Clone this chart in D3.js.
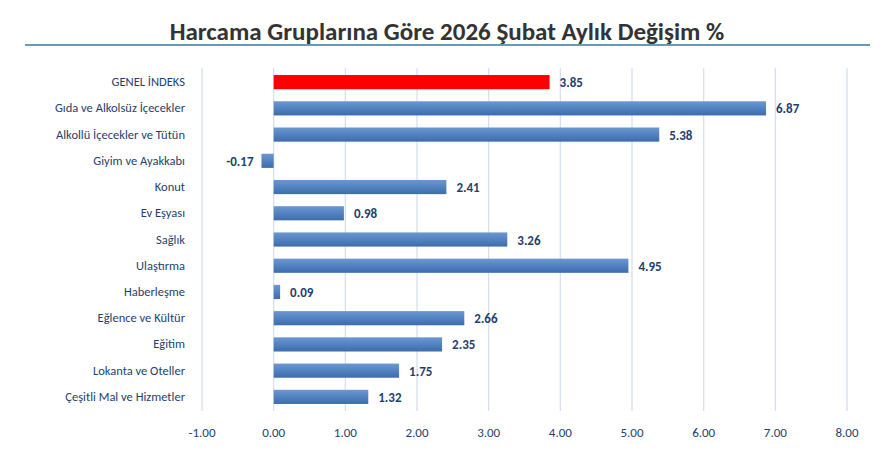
<!DOCTYPE html>
<html><head><meta charset="utf-8">
<script src="https://cdn.jsdelivr.net/npm/d3@7"></script>
<style>body{margin:0;background:#fff;font-family:Calibri,Carlito,"Open Sans",sans-serif;}</style>
</head><body><svg id="chart"></svg>
<script>
var categories = ["GENEL İNDEKS","Gıda ve Alkolsüz İçecekler","Alkollü İçecekler ve Tütün","Giyim ve Ayakkabı","Konut","Ev Eşyası","Sağlık","Ulaştırma","Haberleşme","Eğlence ve Kültür","Eğitim","Lokanta ve Oteller","Çeşitli Mal ve Hizmetler"];
var values = [3.85,6.87,5.38,-0.17,2.41,0.98,3.26,4.95,0.09,2.66,2.35,1.75,1.32];
var ticks = [-1,0,1,2,3,4,5,6,7,8];

var svg = d3.select("#chart").attr("width",885).attr("height",457);
var grad = svg.append("defs").append("linearGradient").attr("id","g").attr("x1",0).attr("y1",0).attr("x2",0).attr("y2",1);
grad.append("stop").attr("offset","0%").attr("stop-color","#6a98d2");
grad.append("stop").attr("offset","100%").attr("stop-color","#3c6cad");

svg.append("text").attr("x",447).attr("y",40).attr("text-anchor","middle")
  .attr("font-size",25).attr("font-weight","bold").attr("fill","#333")
  .text("Harcama Gruplarına Göre 2026 Şubat Aylık Değişim %");
svg.append("line").attr("x1",25).attr("x2",870).attr("y1",45).attr("y2",45).attr("stroke","#2e7d9a").attr("stroke-width",1.5);

var x = d3.scaleLinear().domain([-1,8]).range([202,847]);
var y = d3.scaleBand().domain(categories).range([69,410]).paddingInner(0.46).paddingOuter(0.23);

svg.append("g").selectAll("line").data(ticks).enter().append("line")
  .attr("x1",d=>x(d)).attr("x2",d=>x(d)).attr("y1",68).attr("y2",411)
  .attr("stroke","#d6e0ef").attr("stroke-width",1.3);

svg.append("g").selectAll("text").data(ticks).enter().append("text")
  .attr("x",d=>x(d)).attr("y",437).attr("text-anchor","middle").attr("font-size",13).attr("fill","#1f3f6e")
  .text(d=>d.toFixed(2));

svg.append("g").selectAll("text").data(categories).enter().append("text")
  .attr("x",185).attr("y",d=>y(d)+y.bandwidth()/2+4).attr("text-anchor","end").attr("font-size",12.5).attr("fill","#1f3f6e")
  .text(d=>d);

svg.append("g").selectAll("rect").data(values).enter().append("rect")
  .attr("x",d=>x(Math.min(0,d))).attr("width",d=>Math.abs(x(d)-x(0)))
  .attr("y",(d,i)=>y(categories[i])).attr("height",y.bandwidth())
  .attr("fill",(d,i)=>i===0?"#ff0000":"url(#g)");

svg.append("g").selectAll("text").data(values).enter().append("text")
  .attr("x",d=>d<0?x(d)-8:x(d)+10).attr("text-anchor",d=>d<0?"end":"start")
  .attr("y",(d,i)=>y(categories[i])+y.bandwidth()/2+5)
  .attr("font-size",13).attr("font-weight","bold").attr("fill","#1f3f6e")
  .text(d=>d.toFixed(2));
</script></body></html>
